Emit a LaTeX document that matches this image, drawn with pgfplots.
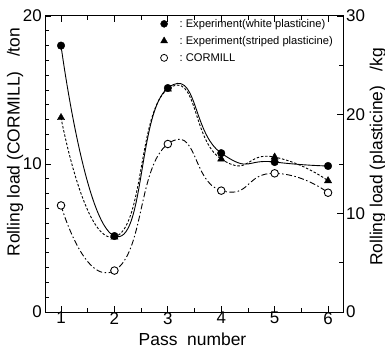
\documentclass[border=0pt]{standalone}
\usepackage{fontspec}
\setmainfont{Liberation Sans}
\usepackage{pgfplots}
\pgfplotsset{compat=1.18}
\begin{document}
\begin{tikzpicture}
\useasboundingbox (0,0) rectangle (385bp,351bp);
\pgfplotsset{
  common/.style={
    scale only axis, width=298bp, height=296bp,
    at={(45bp,39bp)}, anchor=south west,
    xmin=0.7, xmax=6.28,
    /pgf/number format/assume math mode=true,
    tick label style={font=\fontsize{17}{19}\selectfont},
    label style={font=\fontsize{17.5}{20}\selectfont},
    tick align=inside,
    major tick length=6bp, minor tick length=4bp,
    axis line style={line width=1pt},
    every tick/.style={black, line width=0.8pt},
  }
}
\begin{axis}[common,
  ymin=0, ymax=20,
  ytick={0,10,20}, minor ytick={1,...,19},
  ytick pos=left,
  xtick={1,...,6}, minor xtick={1.5,2.5,3.5,4.5,5.5},
  xtick pos=both,
  xticklabel style={inner sep=0pt, yshift=0bp},
  yticklabel style={inner sep=0pt, xshift=-3bp},
  xlabel={Pass\ \ number},
  ylabel={Rolling load (CORMILL)\ \ \ /ton},
  xlabel style={at={(axis description cs:0.495,-0.091)}, anchor=center},
  ylabel style={at={(axis description cs:-0.10,0.574)}, anchor=center},
]
\addplot[black, line width=0.9pt, dash pattern=on 6pt off 2.5pt on 1.5pt off 2.5pt, smooth, tension=1.0]
  coordinates {(1,7.2)(2,2.8)(3,11.35)(4,8.2)(5,9.37)(6,8.06)};
\addplot[only marks, mark=*, mark size=3.8pt, mark options={line width=0.9pt, draw=black, fill=white}]
  coordinates {(1,7.2)(2,2.8)(3,11.35)(4,8.2)(5,9.37)(6,8.06)};
\end{axis}
\begin{axis}[common,
  ymin=0, ymax=30,
  axis x line=none,
  axis y line*=right,
  ytick={0,10,20,30}, minor ytick={5,15,25},
  yticklabel style={inner sep=0pt, xshift=3bp},
  ylabel={Rolling load (plasticine)\ \ \ /kg},
  ylabel style={at={(axis description cs:1.117,0.524)}, anchor=center, rotate=0},
  legend style={at={(0.973,0.997)}, anchor=north east, draw=none, fill=none,
    font=\fontsize{11.2}{13}\selectfont, row sep=3.5bp, inner sep=0pt,
    /tikz/every odd column/.append style={column sep=10bp}},
  legend cell align=left,
]
\addplot[black, line width=0.9pt, smooth, tension=1.0, forget plot]
  coordinates {(1,27.0)(2,7.7)(3,22.7)(4,16.1)(5,15.2)(6,14.8)};
\addplot[black, line width=0.9pt, dash pattern=on 2.5pt off 1.8pt, smooth, tension=1.0, forget plot]
  coordinates {(1,19.7)(2,7.6)(3,22.6)(4,15.5)(5,15.7)(6,13.3)};
\addplot[only marks, mark=triangle*, mark size=4.2pt, black, forget plot]
  coordinates {(1,19.7)(2,7.6)(3,22.6)(4,15.5)(5,15.7)(6,13.3)};
\addplot[only marks, mark=*, mark size=3.8pt, black, forget plot]
  coordinates {(1,27.0)(2,7.7)(3,22.7)(4,16.1)(5,15.2)(6,14.8)};
\addlegendimage{only marks, mark=*, mark size=3.5pt, black}
\addlegendimage{only marks, mark=triangle*, mark size=4pt, black}
\addlegendimage{only marks, mark=*, mark size=3.5pt, mark options={draw=black, fill=white, line width=0.8pt}}
\legend{:\ Experiment(white plasticine), :\ Experiment(striped plasticine), :\ CORMILL}
\end{axis}
\end{tikzpicture}
\end{document}
